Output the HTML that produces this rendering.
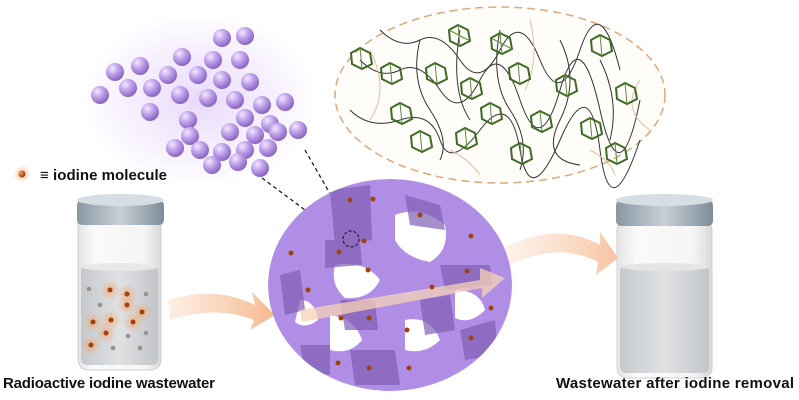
<!DOCTYPE html>
<html><head><meta charset="utf-8"><style>
html,body{margin:0;padding:0;background:#fff;}
svg{display:block}
text{font-family:"Liberation Sans",Arial,sans-serif;font-weight:bold;}
</style></head><body>
<svg width="799" height="400" viewBox="0 0 799 400" xmlns="http://www.w3.org/2000/svg">
<defs>
<radialGradient id="ps" cx="0.35" cy="0.3" r="0.7"><stop offset="0" stop-color="#f3e8ff"/><stop offset="0.45" stop-color="#c3a6ec"/><stop offset="1" stop-color="#8a66c4"/></radialGradient>
<radialGradient id="glow" cx="0.5" cy="0.5" r="0.5"><stop offset="0" stop-color="#d2b6f5" stop-opacity="0.5"/><stop offset="1" stop-color="#d2b6f5" stop-opacity="0"/></radialGradient>
<radialGradient id="og" cx="0.5" cy="0.5" r="0.5"><stop offset="0" stop-color="#f6a56b" stop-opacity="0.7"/><stop offset="1" stop-color="#f6a56b" stop-opacity="0"/></radialGradient>
<radialGradient id="od" cx="0.35" cy="0.35" r="0.6"><stop offset="0" stop-color="#f0a060"/><stop offset="1" stop-color="#a0420c"/></radialGradient>
<linearGradient id="cap" x1="0" y1="0" x2="1" y2="0"><stop offset="0" stop-color="#8a98a4"/><stop offset="0.5" stop-color="#c7d0d8"/><stop offset="1" stop-color="#7e8c98"/></linearGradient>
<linearGradient id="glass" x1="0" y1="0" x2="1" y2="0"><stop offset="0" stop-color="#e4e4e4"/><stop offset="0.2" stop-color="#fafafa"/><stop offset="0.8" stop-color="#f5f5f5"/><stop offset="1" stop-color="#d8d8d8"/></linearGradient>
<linearGradient id="liq" x1="0" y1="0" x2="1" y2="0"><stop offset="0" stop-color="#c6c9cc"/><stop offset="0.5" stop-color="#dfe1e3"/><stop offset="1" stop-color="#c2c5c8"/></linearGradient>
<linearGradient id="arr" x1="0" y1="0" x2="1" y2="0"><stop offset="0" stop-color="#f7c9a6" stop-opacity="0.3"/><stop offset="1" stop-color="#f6b88c"/></linearGradient>
<linearGradient id="arr2" x1="0" y1="0" x2="1" y2="0"><stop offset="0" stop-color="#fbe3d1" stop-opacity="0.4"/><stop offset="1" stop-color="#f7c4a0"/></linearGradient>
<clipPath id="sc"><ellipse cx="390" cy="285" rx="122" ry="106"/></clipPath>
</defs>

<!-- zoom ellipse -->
<ellipse cx="500" cy="95" rx="165" ry="88" fill="#fffdfa" stroke="#e0a77a" stroke-width="1.5" stroke-dasharray="8,5"/>
<g stroke="#333" stroke-width="1" fill="none">
<path d="M360 60 Q380 80 400 70 T440 90 T480 80 T520 100 T560 90 T600 110 T640 100"/>
<path d="M350 110 Q370 130 400 120 T440 140 T480 130 T520 150 T560 140 T600 150 T640 140"/>
<path d="M380 30 Q400 50 420 40 T460 60 T500 50 T540 60 T580 50 T620 70"/>
<path d="M420 40 Q410 80 430 110 T440 160"/><path d="M500 30 Q490 80 510 110 T520 170"/>
<path d="M560 40 Q580 80 560 120 T580 165"/><path d="M460 30 Q450 90 470 120"/><path d="M600 60 Q620 100 610 140"/>
</g>
<g stroke="#e2c09a" stroke-width="1" fill="none">
<path d="M370 50 Q390 90 370 120"/><path d="M530 20 Q540 60 525 90"/><path d="M640 80 Q620 110 650 130"/><path d="M450 150 Q470 160 480 175"/><path d="M590 150 Q610 160 615 175"/>
</g>
<g fill="none" stroke="#3d6b22" stroke-width="2">
<g id="pp"></g>
<polygon points="458,25 468,30 470,41 460,46 450,41 449,30"/><polygon points="500,33 510,38 512,49 502,54 492,49 491,38"/>
<polygon points="600,35 610,40 612,51 602,56 592,51 591,40"/><polygon points="390,63 400,68 402,79 392,84 382,79 381,68"/>
<polygon points="435,63 445,68 447,79 437,84 427,79 426,68"/><polygon points="470,78 480,83 482,94 472,99 462,94 461,83"/>
<polygon points="518,63 528,68 530,79 520,84 510,79 509,68"/><polygon points="565,75 575,80 577,91 567,96 557,91 556,80"/>
<polygon points="625,83 635,88 637,99 627,104 617,99 616,88"/><polygon points="400,103 410,108 412,119 402,124 392,119 391,108"/>
<polygon points="490,103 500,108 502,119 492,124 482,119 481,108"/><polygon points="540,111 550,116 552,127 542,132 532,127 531,116"/>
<polygon points="420,131 430,136 432,147 422,152 412,147 411,136"/><polygon points="465,128 475,133 477,144 467,149 457,144 456,133"/>
<polygon points="590,118 600,123 602,134 592,139 582,134 581,123"/><polygon points="520,143 530,148 532,159 522,164 512,159 511,148"/>
<polygon points="615,143 625,148 627,159 617,164 607,159 606,148"/><polygon points="360,48 370,53 372,64 362,69 352,64 351,53"/>
</g>
<g stroke="#5c8a3a" stroke-width="1" fill="none">
<path d="M458,25 L460,46 M449,30 L470,41 M500,33 L502,54 M491,38 L512,49 M600,35 L602,56 M390,63 L392,84 M435,63 L437,84 M470,78 L472,99 M518,63 L520,84 M565,75 L567,96 M625,83 L627,104 M400,103 L402,124 M490,103 L492,124 M540,111 L542,132 M420,131 L422,152 M465,128 L467,149 M590,118 L592,139 M520,143 L522,164 M615,143 L617,164 M360,48 L362,69"/>
</g>

<!-- purple spheres -->
<ellipse cx="200" cy="100" rx="120" ry="90" fill="url(#glow)"/>
<g fill="url(#ps)">
<circle cx="222" cy="38" r="9"/><circle cx="245" cy="36" r="9"/><circle cx="213" cy="60" r="9"/><circle cx="240" cy="60" r="9"/>
<circle cx="115" cy="72" r="9"/><circle cx="140" cy="66" r="9"/><circle cx="182" cy="57" r="9"/><circle cx="168" cy="75" r="9"/>
<circle cx="198" cy="75" r="9"/><circle cx="222" cy="80" r="9"/><circle cx="250" cy="82" r="9"/><circle cx="128" cy="88" r="9"/>
<circle cx="152" cy="88" r="9"/><circle cx="100" cy="95" r="9"/><circle cx="180" cy="95" r="9"/><circle cx="208" cy="98" r="9"/>
<circle cx="235" cy="100" r="9"/><circle cx="262" cy="105" r="9"/><circle cx="285" cy="102" r="9"/><circle cx="150" cy="112" r="9"/>
<circle cx="245" cy="118" r="9"/><circle cx="270" cy="124" r="9"/><circle cx="188" cy="120" r="9"/><circle cx="190" cy="136" r="9"/>
<circle cx="230" cy="132" r="9"/><circle cx="255" cy="135" r="9"/><circle cx="278" cy="132" r="9"/><circle cx="298" cy="130" r="9"/>
<circle cx="175" cy="148" r="9"/><circle cx="200" cy="150" r="9"/><circle cx="222" cy="152" r="9"/><circle cx="245" cy="150" r="9"/>
<circle cx="268" cy="148" r="9"/><circle cx="212" cy="165" r="9"/><circle cx="260" cy="168" r="9"/><circle cx="238" cy="162" r="9"/>
</g>

<!-- dashed lines -->
<path d="M262 178 L340 236 M305 150 L352 232" stroke="#222" stroke-width="1.3" stroke-dasharray="4,3" fill="none"/>

<!-- iodine legend -->
<circle cx="22" cy="174" r="9" fill="url(#og)"/><circle cx="22" cy="174" r="3.5" fill="url(#od)"/>
<text x="40" y="180" font-size="15" fill="#111" textLength="127">≡ iodine molecule</text>

<!-- arrows -->
<path d="M168 300 Q215 285 255 305 L252 292 L275 315 L250 330 L254 320 Q215 305 170 320 Z" fill="url(#arr)"/>
<path d="M500 250 Q555 220 600 245 L600 232 L618 258 L596 275 L598 262 Q555 240 505 268 Z" fill="url(#arr2)"/>

<!-- porous sphere -->
<g clip-path="url(#sc)">
<ellipse cx="390" cy="285" rx="122" ry="106" fill="#b18ee6"/>
<g fill="#fff">
<path d="M395 215 Q420 205 445 225 Q450 250 430 262 Q405 258 395 240Z"/>
<path d="M335 265 Q365 260 380 280 Q370 300 345 298 Q330 285 335 265Z"/>
<path d="M330 315 Q355 318 362 340 Q350 355 330 350Z"/>
<path d="M405 320 Q430 315 440 340 Q425 355 405 350Z"/>
<path d="M455 290 Q480 290 485 310 Q470 325 455 318Z"/>
<path d="M300 300 Q315 300 318 320 Q305 330 295 322Z"/>
</g>
<g fill="#7f5fb3" opacity="0.7">
<path d="M330 190 L370 185 L372 240 L335 245Z"/><path d="M405 195 L440 205 L445 230 L410 225Z"/>
<path d="M325 240 L360 240 L362 265 L325 268Z"/><path d="M440 265 L490 265 L492 285 L445 290Z"/>
<path d="M280 275 L300 270 L305 310 L285 315Z"/><path d="M340 300 L375 300 L378 330 L345 330Z"/>
<path d="M420 300 L450 295 L455 330 L425 335Z"/><path d="M350 350 L395 350 L400 385 L355 385Z"/>
<path d="M460 330 L495 320 L498 355 L465 360Z"/><path d="M300 345 L330 345 L330 375 L305 372Z"/>
</g>
<path d="M300 310 L480 280 L480 268 L505 278 L482 298 L482 288 L302 322Z" fill="#f6d2b5" opacity="0.75"/>
<g fill="#a0420c">
<circle cx="350" cy="200" r="2.5"/><circle cx="373" cy="199" r="2.5"/><circle cx="420" cy="215" r="2.5"/><circle cx="471" cy="236" r="2.5"/>
<circle cx="291" cy="253" r="2.5"/><circle cx="339" cy="252" r="2.5"/><circle cx="364" cy="241" r="2.5"/><circle cx="368" cy="270" r="2.5"/>
<circle cx="467" cy="271" r="2.5"/><circle cx="308" cy="290" r="2.5"/><circle cx="432" cy="287" r="2.5"/><circle cx="491" cy="308" r="2.5"/>
<circle cx="341" cy="318" r="2.5"/><circle cx="369" cy="318" r="2.5"/><circle cx="407" cy="330" r="2.5"/><circle cx="471" cy="338" r="2.5"/>
<circle cx="338" cy="363" r="2.5"/><circle cx="369" cy="368" r="2.5"/><circle cx="409" cy="368" r="2.5"/>
</g>
</g>
<circle cx="351" cy="239" r="8" fill="none" stroke="#222" stroke-width="1.2" stroke-dasharray="3,2"/>

<!-- left vial -->
<rect x="78" y="215" width="83" height="155" rx="10" fill="url(#glass)" stroke="#cfcfcf"/>
<rect x="81" y="265" width="77" height="100" rx="6" fill="url(#liq)"/>
<ellipse cx="119.5" cy="267" rx="38" ry="4" fill="#e6e8ea"/>
<rect x="77" y="200" width="87" height="25" rx="5" fill="url(#cap)"/>
<ellipse cx="120.5" cy="200" rx="43.5" ry="6" fill="#d6dde3"/>
<g>
<g fill="url(#og)"><circle cx="110" cy="290" r="10"/><circle cx="127" cy="294" r="10"/><circle cx="127" cy="305" r="10"/><circle cx="142" cy="312" r="10"/><circle cx="93" cy="322" r="10"/><circle cx="111" cy="320" r="10"/><circle cx="133" cy="322" r="10"/><circle cx="106" cy="333" r="10"/><circle cx="91" cy="345" r="10"/></g>
<g fill="#a0420c"><circle cx="110" cy="290" r="2.5"/><circle cx="127" cy="294" r="2.5"/><circle cx="127" cy="305" r="2.5"/><circle cx="142" cy="312" r="2.5"/><circle cx="93" cy="322" r="2.5"/><circle cx="111" cy="320" r="2.5"/><circle cx="133" cy="322" r="2.5"/><circle cx="106" cy="333" r="2.5"/><circle cx="91" cy="345" r="2.5"/></g>
<g fill="#a09088"><circle cx="89" cy="289" r="2.3"/><circle cx="146" cy="294" r="2.3"/><circle cx="100" cy="305" r="2.3"/><circle cx="128" cy="336" r="2.3"/><circle cx="146" cy="333" r="2.3"/><circle cx="113" cy="348" r="2.3"/><circle cx="140" cy="348" r="2.3"/></g>
</g>

<!-- right vial -->
<rect x="617" y="220" width="95" height="158" rx="10" fill="url(#glass)" stroke="#cfcfcf"/>
<rect x="620" y="265" width="89" height="108" rx="6" fill="url(#liq)"/>
<ellipse cx="664.5" cy="267" rx="44" ry="4" fill="#e3e5e7"/>
<rect x="616" y="200" width="97" height="26" rx="5" fill="url(#cap)"/>
<ellipse cx="664.5" cy="200" rx="48.5" ry="6" fill="#d6dde3"/>

<text x="3" y="388" font-size="15" fill="#111" textLength="212">Radioactive iodine wastewater</text>
<text x="556" y="388" font-size="15" fill="#111" textLength="238">Wastewater after iodine removal</text>
</svg>
</body></html>
